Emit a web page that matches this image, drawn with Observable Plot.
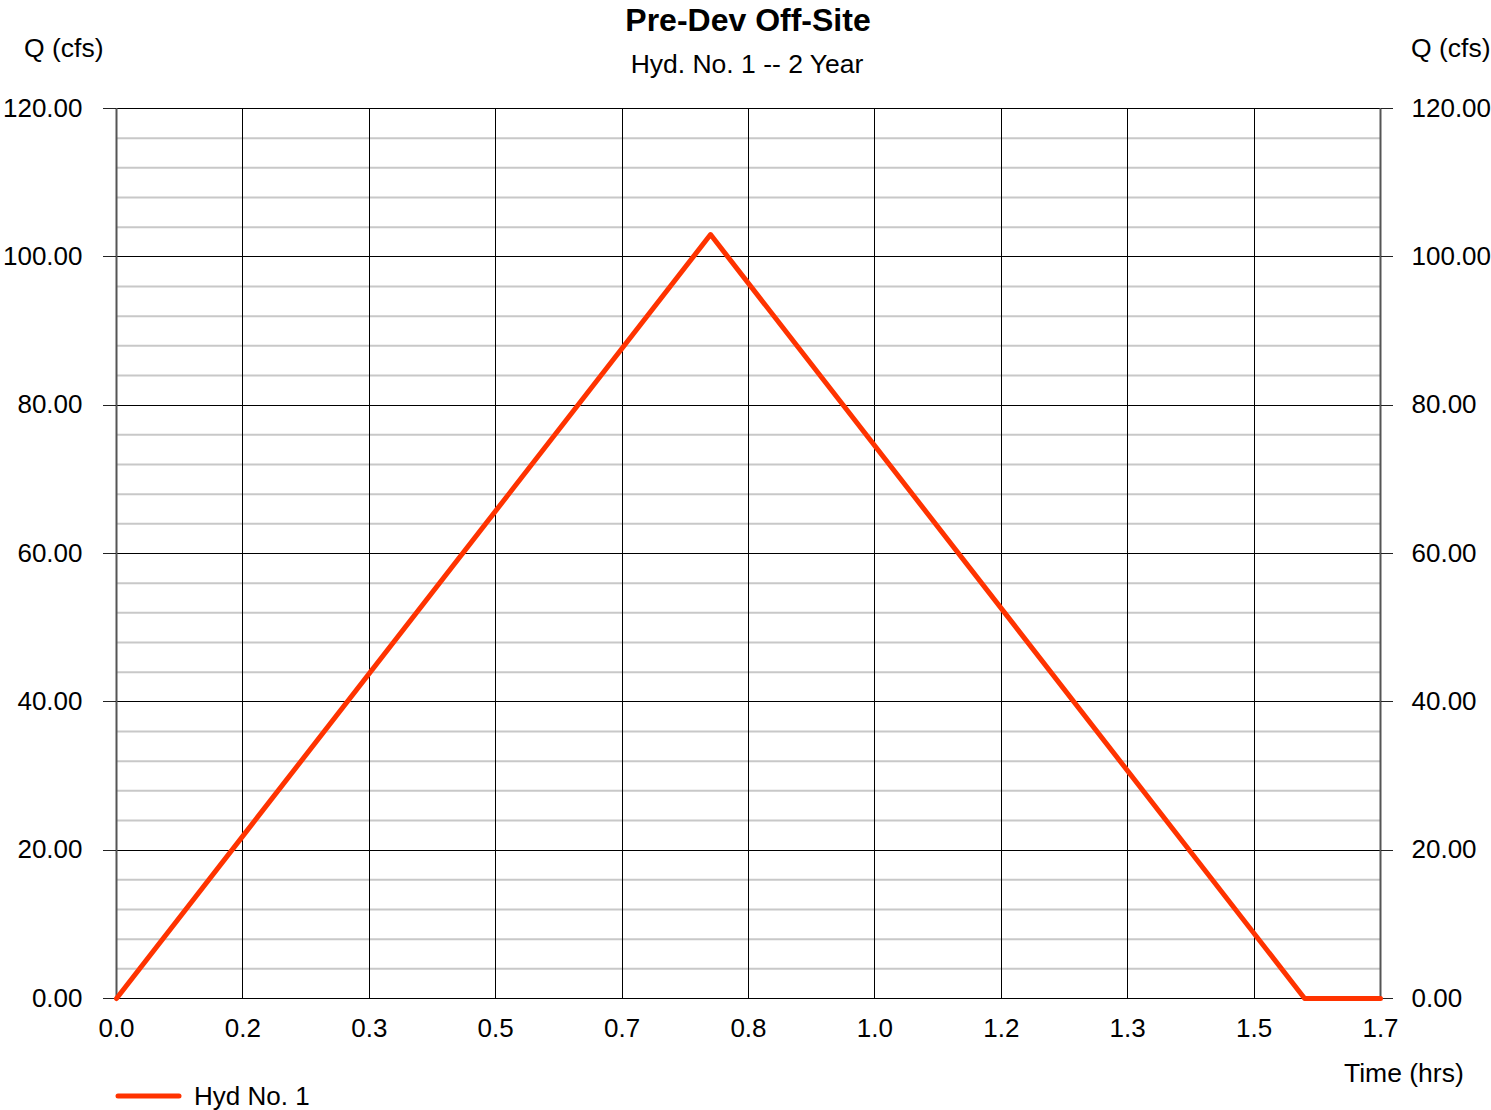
<!DOCTYPE html>
<html>
<head>
<meta charset="utf-8">
<script src="https://cdn.jsdelivr.net/npm/d3@7"></script>
<script src="https://cdn.jsdelivr.net/npm/@observablehq/plot@0.6"></script>
<style>
  html, body { margin: 0; padding: 0; background: white; }
  #wrap { position: relative; width: 1491px; height: 1110px; font-family: "Liberation Sans", Arial, sans-serif; color: #000; }
  .lbl { position: absolute; white-space: nowrap; line-height: 1; }
</style>
</head>
<body>
<div id="wrap">
  <div id="chart"></div>
  <div class="lbl" style="left:0;width:1496px;text-align:center;top:4px;font-size:32px;font-weight:bold;">Pre-Dev Off-Site</div>
  <div class="lbl" style="left:0;width:1494px;text-align:center;top:51px;font-size:26.5px;">Hyd. No. 1 -- 2 Year</div>
  <div class="lbl" style="left:24px;top:35px;font-size:26.5px;">Q (cfs)</div>
  <div class="lbl" style="left:1411px;top:35px;font-size:26.5px;">Q (cfs)</div>
  <div class="lbl" style="left:1344px;top:1060px;font-size:26.5px;">Time (hrs)</div>
  <div class="lbl" style="left:115px;top:1083px;font-size:26px;display:flex;align-items:center;">
    <svg width="68" height="26" style="margin-right:11px"><line x1="3" y1="13" x2="64" y2="13" stroke="#ff3300" stroke-width="5" stroke-linecap="round"/></svg>
    <span>Hyd No. 1</span>
  </div>
</div>
<script>
// Series: Hyd No. 1 (time in hours, flow in cfs)
const timeHrs = [0, 0.7833, 1.5667, 1.6667];
const flowCfs = [0, 103.0, 0, 0];

// Axis ticks
const xTickValues = [0, 0.1667, 0.3333, 0.5, 0.6667, 0.8333, 1.0, 1.1667, 1.3333, 1.5, 1.6667];
const xTickLabels = ["0.0", "0.2", "0.3", "0.5", "0.7", "0.8", "1.0", "1.2", "1.3", "1.5", "1.7"];
const yTickValues = [0, 20, 40, 60, 80, 100, 120];
const yMinorValues = [4, 8, 12, 16, 24, 28, 32, 36, 44, 48, 52, 56, 64, 68, 72, 76, 84, 88, 92, 96, 104, 108, 112, 116];

const data = timeHrs.map((t, i) => ({t, q: flowCfs[i]}));
const xMax = xTickValues[xTickValues.length - 1];

const chart = Plot.plot({
  width: 1491,
  height: 1110,
  marginTop: 108,
  marginBottom: 112,
  marginLeft: 116,
  marginRight: 111,
  style: {fontFamily: "Liberation Sans, Arial, sans-serif", fontSize: "26px", background: "white", color: "black"},
  x: {domain: [0, xMax]},
  y: {domain: [0, 120]},
  marks: [
    Plot.ruleY(yMinorValues, {stroke: "#c8c8c8", strokeWidth: 2}),
    Plot.ruleX(xTickValues, {stroke: "black", strokeWidth: 1, shapeRendering: "crispEdges"}),
    Plot.ruleY(yTickValues, {stroke: "black", strokeWidth: 1, shapeRendering: "crispEdges"}),
    Plot.ruleX([0, xMax], {stroke: "#555", strokeWidth: 2}),
    Plot.axisY({anchor: "left", ticks: yTickValues, tickFormat: d => d.toFixed(2), tickSize: 13, tickPadding: 21, label: null, stroke: "#222", shapeRendering: "crispEdges"}),
    Plot.axisY({anchor: "right", ticks: yTickValues, tickFormat: d => d.toFixed(2), tickSize: 12, tickPadding: 19, label: null, stroke: "#222", shapeRendering: "crispEdges"}),
    Plot.axisX({ticks: xTickValues, tickFormat: d => xTickLabels[xTickValues.indexOf(d)], tickSize: 0, tickPadding: 20, label: null}),
    Plot.line(data, {x: "t", y: "q", stroke: "#ff3300", strokeWidth: 5, strokeLinejoin: "round", strokeLinecap: "round"})
  ]
});
document.getElementById("chart").appendChild(chart);
</script>
</body>
</html>
